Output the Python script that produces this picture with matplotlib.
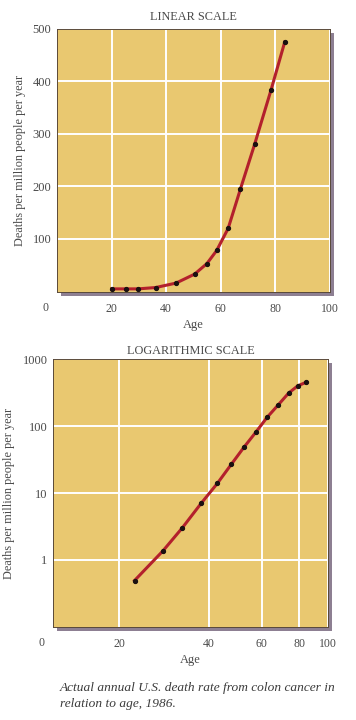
import matplotlib.pyplot as plt
from matplotlib.patches import Rectangle

# linear panel
lin_age = [20, 25.2, 29.8, 36.2, 43.6, 50.4, 54.9, 58.5, 62.7, 67.2, 72.4, 78.4, 83.4]
lin_rate = [5, 5, 5, 7.6, 16, 33, 53, 78, 120, 195, 280, 383, 474]

# log panel
log_age = [22.5, 28, 32.5, 37.6, 42.6, 47.4, 52.3, 57.3, 62.5, 68.2, 73.8, 79.2, 84.7]
log_rate = [0.49, 1.36, 3.0, 7.0, 13.9, 26.7, 48.3, 81, 135, 209, 312, 401, 455]

x_ticks = [20, 40, 60, 80, 100]
lin_yticks = [100, 200, 300, 400, 500]
log_yticks = [1, 10, 100, 1000]

face = "#e9c870"
line_col = "#b3202c"
txt = "#4a4a4a"
serif = ["Liberation Serif", "DejaVu Serif"]
plt.rcParams["font.family"] = serif

fig = plt.figure(figsize=(3.56, 7.2), dpi=100)
fig.patch.set_facecolor("white")

W, H = 356.0, 720.0


def make_axes(l, r, t, b):
    # pixel box -> figure fraction, plus a drop shadow
    rect = [l / W, 1 - b / H, (r - l) / W, (b - t) / H]
    sh = Rectangle((rect[0] + 4 / W, rect[1] - 4 / H), rect[2], rect[3],
                   transform=fig.transFigure, facecolor="#8d7f92",
                   edgecolor="none", zorder=0)
    fig.patches.append(sh)
    ax = fig.add_axes(rect)
    ax.set_facecolor(face)
    ax.set_zorder(1)
    for s in ax.spines.values():
        s.set_color("#5a4a3a")
        s.set_linewidth(0.7)
    ax.tick_params(length=0, colors=txt)
    ax.tick_params(axis="y", labelsize=9, pad=4)
    ax.tick_params(axis="x", labelsize=8.5, pad=8)
    ax.grid(True, color="white", linewidth=1.4)
    ax.set_axisbelow(True)
    return ax


# ---- linear ----
ax1 = make_axes(57, 330, 28.5, 291.5)
ax1.plot(lin_age, lin_rate, color=line_col, lw=2.2, zorder=3)
ax1.plot(lin_age, lin_rate, "o", color="#1a1010", ms=2.8, zorder=4)
ax1.set_xlim(0, 100)
ax1.set_ylim(0, 500)
ax1.set_xticks(x_ticks)
ax1.set_yticks(lin_yticks)
ax1.set_xticklabels([str(v) for v in x_ticks])
ax1.set_yticklabels([str(v) for v in lin_yticks])
ax1.text(-0.03, -0.04, "0", transform=ax1.transAxes, ha="right", va="top",
         fontsize=8.5, color=txt)
ax1.set_title("LINEAR SCALE", fontsize=8.8, color=txt, pad=6)
ax1.set_xlabel("Age", fontsize=9, color=txt, labelpad=3)
ax1.set_ylabel("Deaths per million people per year", fontsize=8.8,
               color=txt, labelpad=5)

# ---- logarithmic ----
ax2 = make_axes(53, 328, 359.3, 626.7)
ax2.set_xscale("log")
ax2.set_yscale("log")
ax2.plot(log_age, log_rate, color=line_col, lw=2.2, zorder=3)
ax2.plot(log_age, log_rate, "o", color="#1a1010", ms=2.8, zorder=4)
ax2.set_xlim(12, 100)
ax2.set_ylim(0.1, 1000)
ax2.minorticks_off()
ax2.set_xticks(x_ticks)
ax2.set_yticks(log_yticks)
ax2.set_xticklabels([str(v) for v in x_ticks])
ax2.set_yticklabels([str(v) for v in log_yticks])
ax2.tick_params(which="minor", length=0)
ax2.text(-0.03, -0.04, "0", transform=ax2.transAxes, ha="right", va="top",
         fontsize=8.5, color=txt)
ax2.set_title("LOGARITHMIC SCALE", fontsize=8.8, color=txt, pad=4)
ax2.set_xlabel("Age", fontsize=9, color=txt, labelpad=3)
ax2.set_ylabel("Deaths per million people per year", fontsize=8.8,
               color=txt, labelpad=5)

fig.text(60 / W, 1 - 696 / H,
         "Actual annual U.S. death rate from colon cancer in\nrelation to age, 1986.",
         fontsize=9.6, style="italic", color="#3a3a3a", ha="left", va="center",
         linespacing=1.5)

fig.savefig("out.png", dpi=100, facecolor="white")
